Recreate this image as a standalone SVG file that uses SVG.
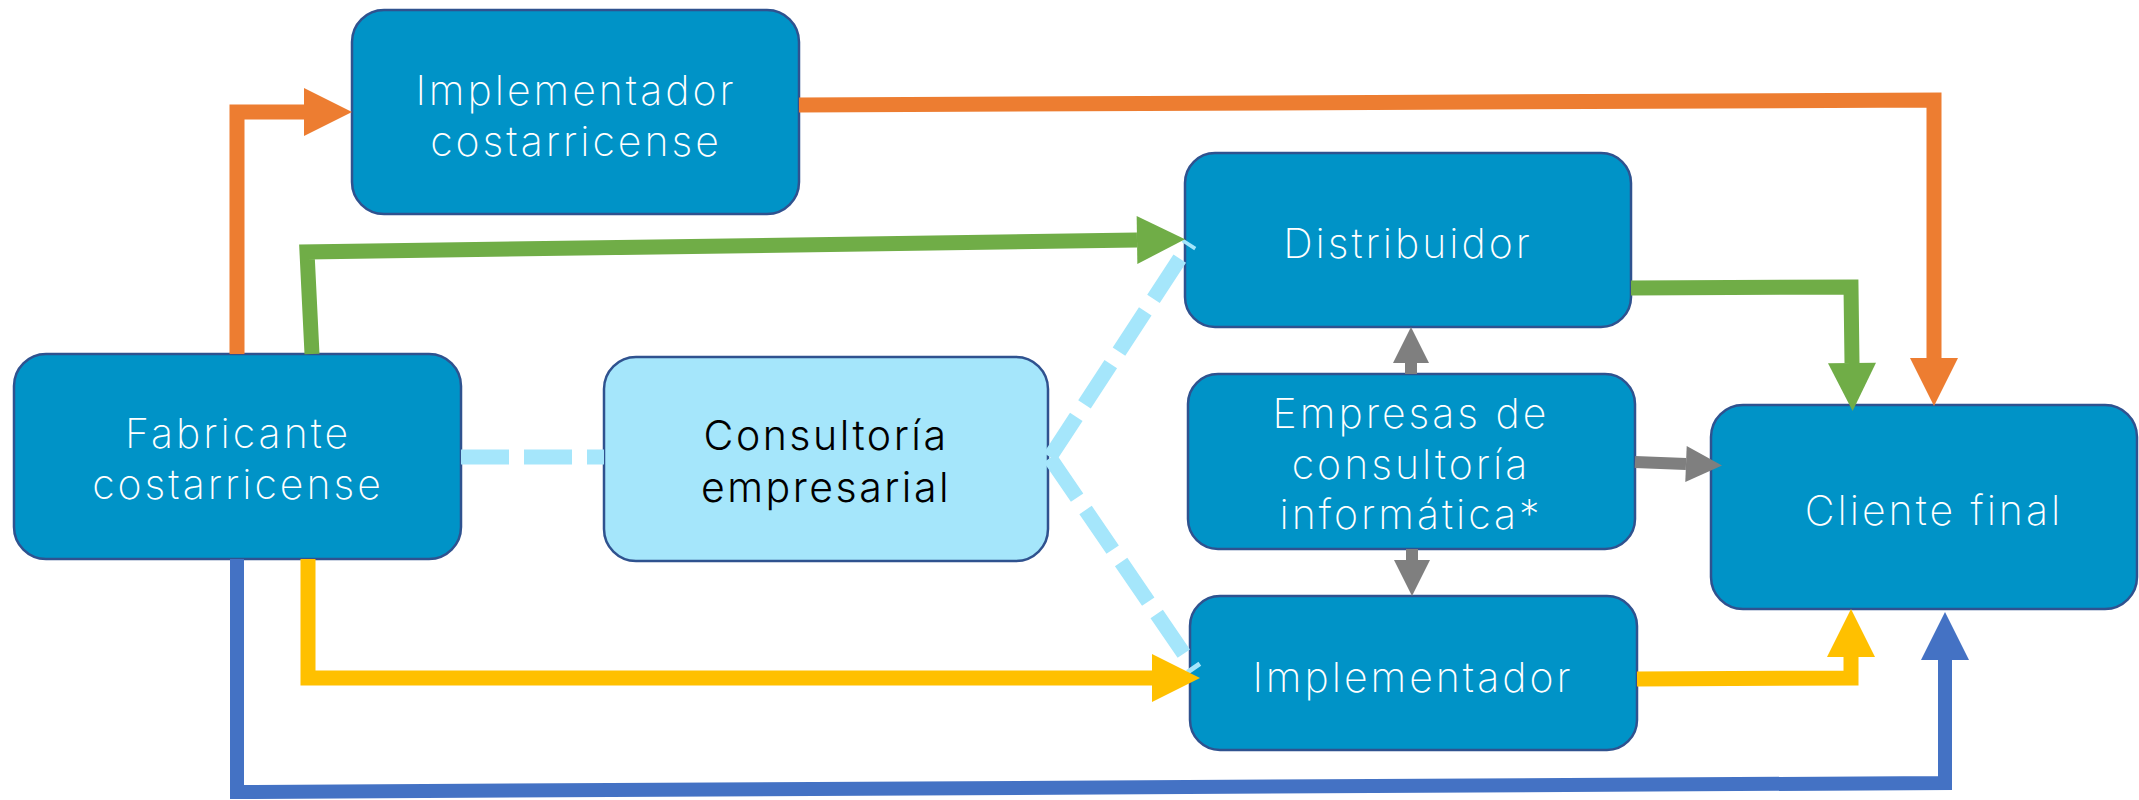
<svg xmlns="http://www.w3.org/2000/svg" width="2139" height="800" viewBox="0 0 2139 800">
<style>
.box{fill:#0093C7;stroke:#2F528F;stroke-width:2.5}
.lbox{fill:#A5E6FB;stroke:#2F528F;stroke-width:2.5}
.t{font-family:Inter,"Open Sans","Liberation Sans",sans-serif;font-weight:200;font-size:41px;fill:#FFFFFF;text-anchor:middle;letter-spacing:3px}
.tk{fill:#000000;font-weight:300;letter-spacing:2.5px}
.c{fill:none;stroke-linejoin:miter}
.or{stroke:#ED7D31;stroke-width:15}
.gr{stroke:#70AD47;stroke-width:15}
.ye{stroke:#FFC000;stroke-width:15}
.bl{stroke:#4472C4;stroke-width:14}
.gy{stroke:#7F7F7F;stroke-width:12}
.da{stroke:#A5E6FB;stroke-width:15;stroke-dasharray:48 15}
</style>
<defs>
<marker id="aor" markerUnits="userSpaceOnUse" markerWidth="48" markerHeight="48" refX="0" refY="24" orient="auto" overflow="visible"><path d="M0,0 L48,24 L0,48 Z" fill="#ED7D31"/></marker>
<marker id="agr" markerUnits="userSpaceOnUse" markerWidth="48" markerHeight="48" refX="0" refY="24" orient="auto" overflow="visible"><path d="M0,0 L48,24 L0,48 Z" fill="#70AD47"/></marker>
<marker id="aye" markerUnits="userSpaceOnUse" markerWidth="48" markerHeight="48" refX="0" refY="24" orient="auto" overflow="visible"><path d="M0,0 L48,24 L0,48 Z" fill="#FFC000"/></marker>
<marker id="abl" markerUnits="userSpaceOnUse" markerWidth="48" markerHeight="48" refX="0" refY="24" orient="auto" overflow="visible"><path d="M0,0 L48,24 L0,48 Z" fill="#4472C4"/></marker>
<marker id="agy" markerUnits="userSpaceOnUse" markerWidth="36" markerHeight="36" refX="0" refY="18" orient="auto" overflow="visible"><path d="M0,0 L36,18 L0,36 Z" fill="#7F7F7F"/></marker>
</defs>
<rect width="2139" height="800" fill="#FFFFFF"/>
<g id="nodes">
<g id="implementador-cr"><rect class="box" x="352" y="10" width="447" height="204" rx="32"/><text class="t" x="576" y="105">Implementador</text><text class="t" x="576" y="156">costarricense</text></g>
<g id="fabricante"><rect class="box" x="14" y="354" width="447" height="205" rx="32"/><text class="t" x="238" y="448">Fabricante</text><text class="t" x="238" y="499">costarricense</text></g>
<g id="consultoria"><rect class="lbox" x="604" y="357" width="444" height="204" rx="32"/><text class="t tk" x="826" y="450">Consultoría</text><text class="t tk" x="826" y="502">empresarial</text></g>
<g id="distribuidor"><rect class="box" x="1185" y="153" width="446" height="174" rx="30"/><text class="t" x="1408" y="258">Distribuidor</text></g>
<g id="empresas"><rect class="box" x="1188" y="374" width="447" height="175" rx="30"/><text class="t" x="1411" y="428">Empresas de</text><text class="t" x="1411" y="479">consultoría</text><text class="t" x="1411" y="529">informática*</text></g>
<g id="implementador"><rect class="box" x="1190" y="596" width="447" height="154" rx="30"/><text class="t" x="1413" y="692">Implementador</text></g>
<g id="cliente"><rect class="box" x="1711" y="405" width="426" height="204" rx="32"/><text class="t" x="1934" y="525">Cliente final</text></g>
</g>
<g id="connectors">
<path class="c da" d="M461,457 L604,457"/>
<path class="c da" d="M1050,457 L1190,243"/>
<path class="c da" d="M1050,458 L1195,670"/>
<path class="c or" d="M237,354 L237,112 L304,112" marker-end="url(#aor)"/>
<path class="c or" d="M799,105 L1934,100 L1934,358" marker-end="url(#aor)"/>
<path class="c gr" d="M312,354 L307,252 L1137,240" marker-end="url(#agr)"/>
<path class="c gr" d="M1631,288 L1851,287 L1852,363" marker-end="url(#agr)"/>
<path class="c ye" d="M308,559 L308,678 L1152,678" marker-end="url(#aye)"/>
<path class="c ye" d="M1637,679 L1851,678 L1851,657" marker-end="url(#aye)"/>
<path class="c bl" d="M237,559 L237,792 L1945,783 L1945,660" marker-end="url(#abl)"/>
<path class="c gy" d="M1411,374 L1411,363" marker-end="url(#agy)"/>
<path class="c gy" d="M1412,549 L1412,560" marker-end="url(#agy)"/>
<path class="c gy" d="M1635,462 L1686,464" marker-end="url(#agy)"/>
</g>
</svg>
